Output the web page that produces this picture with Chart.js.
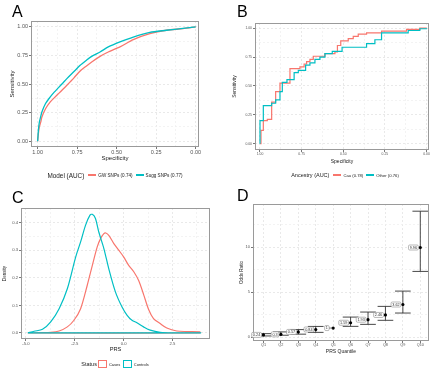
<!DOCTYPE html>
<html>
<head>
<meta charset="utf-8">
<script src="https://cdn.jsdelivr.net/npm/chart.js@4.4.1/dist/chart.umd.min.js"></script>
<style>
  body { margin: 0; width: 440px; height: 371px; position: relative; overflow: hidden; background: #fff;
         font-family: 'Liberation Sans', Arial, sans-serif; }
  canvas { position: absolute; }
  .tag { position: absolute; font-size: 16px; line-height: 16px; color: #000; will-change: transform; }
  .legend { position: absolute; display: flex; align-items: center; justify-content: center; color: #1a1a1a; white-space: nowrap; will-change: transform; }
  .legend span { color: #1a1a1a; }
  .legend .k { display: inline-block; box-sizing: border-box; }
</style>
</head>
<body>
<div class="tag" style="left:12px;top:4px">A</div>
<div class="tag" style="left:237px;top:4px">B</div>
<div class="tag" style="left:12px;top:190px">C</div>
<div class="tag" style="left:237px;top:188px">D</div>

<canvas id="rocA" width="205" height="150" style="left:0;top:15px"></canvas>
<canvas id="rocB" width="215" height="150" style="left:220px;top:15px"></canvas>
<canvas id="dens" width="215" height="155" style="left:0;top:200px"></canvas>
<canvas id="odds" width="215" height="155" style="left:220px;top:200px"></canvas>

<div class="legend" id="legA" style="left:0;width:230px;top:170px;height:10px"></div>
<div class="legend" id="legB" style="left:230px;width:230px;top:170px;height:10px"></div>
<div class="legend" id="legC" style="left:0;width:230px;top:359px;height:10px"></div>

<script>
// * A: ROC, whole cohort
const specA = [1, 0.995, 0.99, 0.98, 0.973, 0.95, 0.92, 0.895, 0.868, 0.84, 0.815, 0.77, 0.731, 0.695, 0.658, 0.605, 0.553, 0.479, 0.395, 0.29, 0.185, 0.08, 0];
const sensGW = [0, 0.07, 0.12, 0.17, 0.213, 0.285, 0.344, 0.38, 0.417, 0.455, 0.49, 0.555, 0.615, 0.655, 0.694, 0.743, 0.781, 0.825, 0.889, 0.941, 0.971, 0.985, 1];
const sensSugg = [0, 0.10, 0.16, 0.22, 0.257, 0.33, 0.388, 0.43, 0.469, 0.51, 0.548, 0.61, 0.665, 0.705, 0.743, 0.781, 0.825, 0.869, 0.912, 0.953, 0.971, 0.988, 1];
const modelNames = ["GW SNPs (0.74)", "Sugg SNPs (0.77)"];

// * B: ROC by ancestry (step curves)
const specCau = [1, 0.994, 0.98, 0.956, 0.93, 0.906, 0.88, 0.82, 0.76, 0.735, 0.72, 0.70, 0.68, 0.61, 0.55, 0.535, 0.515, 0.47, 0.44, 0.41, 0.36, 0.27, 0.12, 0.04, 0];
const sensCau = [0, 0.115, 0.20, 0.21, 0.36, 0.45, 0.525, 0.65, 0.665, 0.69, 0.71, 0.73, 0.757, 0.78, 0.795, 0.85, 0.89, 0.91, 0.93, 0.948, 0.96, 0.975, 0.99, 1, 1];
const specOther = [1, 1, 0.98, 0.93, 0.906, 0.88, 0.866, 0.838, 0.795, 0.77, 0.726, 0.70, 0.67, 0.64, 0.61, 0.566, 0.507, 0.36, 0.31, 0.27, 0.11, 0.04, 0];
const sensOther = [0, 0.20, 0.33, 0.35, 0.38, 0.45, 0.53, 0.555, 0.615, 0.635, 0.68, 0.70, 0.73, 0.75, 0.78, 0.80, 0.835, 0.867, 0.90, 0.96, 0.98, 0.995, 1];
const ancestryNames = ["Cau (0.78)", "Other (0.76)"];

// * C: PRS density (last two points close the outline along 0)
const prsCases = [-4.9, -4.2, -3.73, -3.3, -2.88, -2.54, -2.2, -1.86, -1.6, -1.35, -1.18, -1.01, -0.91, -0.76, -0.5, -0.25, 0.0, 0.26, 0.52, 0.77, 1.02, 1.28, 1.53, 1.87, 2.21, 2.72, 3.23, 3.9, 3.9, -4.9];
const densCases = [0, 0.001, 0.002, 0.007, 0.022, 0.046, 0.088, 0.173, 0.245, 0.312, 0.342, 0.36, 0.3625, 0.354, 0.324, 0.30, 0.276, 0.245, 0.222, 0.19, 0.14, 0.085, 0.052, 0.034, 0.018, 0.007, 0.005, 0.004, 0, 0];
const prsControls = [-4.9, -4.58, -4.15, -3.73, -3.3, -2.88, -2.45, -2.2, -1.95, -1.72, -1.6, -1.44, -1.27, -1.01, -0.76, -0.42, -0.08, 0.18, 0.43, 0.68, 1.02, 1.36, 1.87, 2.55, 3.9, -4.9];
const densControls = [0, 0.006, 0.013, 0.04, 0.088, 0.16, 0.276, 0.33, 0.39, 0.427, 0.43, 0.415, 0.366, 0.306, 0.233, 0.149, 0.094, 0.064, 0.046, 0.037, 0.022, 0.01, 0.002, 0, 0, 0];
const statusNames = ["Cases", "Controls"];

// * D: odds ratio per PRS quantile
const quantiles = ["Q1", "Q2", "Q3", "Q4", "Q5", "Q6", "Q7", "Q8", "Q9", "Q10"];
const oddsRatio = [0.24, 0.3, 0.57, 0.84, 1, 1.59, 1.93, 2.46, 3.62, 9.96];
const ciLow = [0.12, 0.2, 0.32, 0.52, null, 1.19, 1.41, 1.86, 2.67, 7.3];
const ciHigh = [0.38, 0.57, 0.83, 1.18, null, 2.22, 2.78, 3.41, 5.11, 14.0];

// ticks
const rocTicks = [0, 0.25, 0.5, 0.75, 1];
const prsTicks = [-5, -2.5, 0, 2.5];
const densTicks = [0, 0.1, 0.2, 0.3, 0.4];
const orTicks = [0, 5, 10];

const RED = "#F8766D";
const TEAL = "#00BFC4";

Chart.defaults.font.family = "'Liberation Sans', Arial, sans-serif";
Chart.defaults.animation = false;

const near = (a, b) => Math.abs(a - b) < 1e-6;
const mids = (m, lo, hi) => {
  const step = m[1] - m[0];
  const out = [];
  for (let v = m[0] - step / 2; v <= hi; v += step) if (v >= lo) out.push(v);
  return out;
};

function makeAxis(o) {
  const minors = o.minors || [];
  const all = o.majors.concat(minors).sort((a, b) => a - b);
  const isMajor = (v) => o.majors.some((m) => near(m, v));
  return {
    type: "linear",
    min: o.min,
    max: o.max,
    reverse: !!o.reverse,
    afterBuildTicks: (s) => { s.ticks = all.map((v) => ({ value: v })); },
    afterFit: (s) => { if (s.isHorizontal()) s.height = o.size; else s.width = o.size; },
    grid: {
      color: (c) => (c.tick && isMajor(c.tick.value) ? "#e4e4e4" : "#f0f0f0"),
      lineWidth: 0.8,
      tickLength: 2,
      tickWidth: 0.8,
      tickColor: (c) => (c.tick && isMajor(c.tick.value) ? "#555" : "rgba(0,0,0,0)"),
      tickBorderDash: [],
    },
    border: { display: false, dash: [2, 2] },
    ticks: {
      autoSkip: false,
      maxRotation: 0,
      padding: o.tickPad == null ? 1 : o.tickPad,
      color: "#555",
      font: { size: o.tickSize },
      callback: (v) => (isMajor(v) ? o.fmt(v) : ""),
    },
    title: { display: true, text: o.title, color: "#222", font: { size: o.titleSize }, padding: o.titlePad },
  };
}

// panel border like theme_bw
Chart.register({
  id: "frame",
  afterDatasetsDraw(chart) {
    const a = chart.chartArea, ctx = chart.ctx;
    ctx.save();
    ctx.strokeStyle = "#9a9a9a";
    ctx.lineWidth = 1;
    ctx.strokeRect(a.left + 0.5, a.top + 0.5, a.right - a.left - 1, a.bottom - a.top - 1);
    ctx.restore();
  },
});

const pts = (xs, ys) => xs.map((x, i) => ({ x: x, y: ys[i] }));
const baseOpts = (padTop, padRight, scales) => ({
  responsive: false,
  layout: { padding: { top: padTop, right: padRight, left: 0, bottom: 0 } },
  plugins: { legend: { display: false }, tooltip: { enabled: false } },
  scales: scales,
});
const fmt2 = (v) => v.toFixed(2);
const fmt1 = (v) => v.toFixed(1);

// ? A
new Chart(document.getElementById("rocA"), {
  type: "scatter",
  data: {
    datasets: [
      { label: modelNames[0], data: pts(specA, sensGW), showLine: true, pointRadius: 0, borderColor: RED, borderWidth: 1.3, tension: 0.25, order: 1 },
      { label: modelNames[1], data: pts(specA, sensSugg), showLine: true, pointRadius: 0, borderColor: TEAL, borderWidth: 1.3, tension: 0.25, order: 0 },
    ],
  },
  options: baseOpts(6, 6, {
    x: makeAxis({ min: -0.021, max: 1.042, reverse: true, majors: rocTicks, minors: mids(rocTicks, -0.021, 1.042), size: 18, tickSize: 5.5, tickPad: 0, fmt: fmt2, title: "Specificity", titleSize: 6, titlePad: { top: 0, bottom: 2.6 } }),
    y: makeAxis({ min: -0.05, max: 1.052, majors: rocTicks, minors: mids(rocTicks, -0.05, 1.052), size: 31, tickSize: 5.5, fmt: fmt2, title: "Sensitivity", titleSize: 6, titlePad: { top: 8.4, bottom: 0 } }),
  }),
});

// ? B
new Chart(document.getElementById("rocB"), {
  type: "scatter",
  data: {
    datasets: [
      { label: ancestryNames[0], data: pts(specCau, sensCau), showLine: true, stepped: true, pointRadius: 0, borderColor: RED, borderWidth: 1.2, order: 1 },
      { label: ancestryNames[1], data: pts(specOther, sensOther), showLine: true, stepped: true, pointRadius: 0, borderColor: TEAL, borderWidth: 1.2, order: 0 },
    ],
  },
  options: baseOpts(8, 6, {
    x: makeAxis({ min: -0.015, max: 1.03, reverse: true, majors: rocTicks, minors: mids(rocTicks, -0.015, 1.03), size: 15, tickSize: 3.4, tickPad: 0, fmt: fmt2, title: "Specificity", titleSize: 5, titlePad: { top: 0, bottom: 0.8 } }),
    y: makeAxis({ min: -0.055, max: 1.045, majors: rocTicks, minors: mids(rocTicks, -0.055, 1.045), size: 35, tickSize: 3.4, fmt: fmt2, title: "Sensitivity", titleSize: 5, titlePad: { top: 12, bottom: 0 } }),
  }),
});

// ? C
new Chart(document.getElementById("dens"), {
  type: "scatter",
  data: {
    datasets: [
      { label: statusNames[0], data: pts(prsCases, densCases), showLine: true, pointRadius: 0, borderColor: RED, borderWidth: 1.2, tension: 0.3, order: 1 },
      { label: statusNames[1], data: pts(prsControls, densControls), showLine: true, pointRadius: 0, borderColor: TEAL, borderWidth: 1.2, tension: 0.3, order: 0 },
    ],
  },
  options: baseOpts(8, 5, {
    x: makeAxis({ min: -5.25, max: 4.42, majors: prsTicks, minors: mids(prsTicks, -5.25, 4.42), size: 16, tickSize: 4.2, tickPad: 0, fmt: fmt1, title: "PRS", titleSize: 5.7, titlePad: { top: 0, bottom: 1.8 } }),
    y: makeAxis({ min: -0.022, max: 0.453, majors: densTicks, minors: mids(densTicks, -0.022, 0.453), size: 21, tickSize: 4.2, fmt: fmt1, title: "Density", titleSize: 4.6, titlePad: { top: 2.3, bottom: 0 } }),
  }),
});

// ? D
const errorBars = {
  id: "errorBars",
  beforeDatasetsDraw(chart) {
    const xs = chart.scales.x, ys = chart.scales.y, ctx = chart.ctx;
    ctx.save();
    ctx.strokeStyle = "#333";
    ctx.lineWidth = 0.9;
    oddsRatio.forEach((v, i) => {
      if (ciLow[i] == null) return;
      const x = xs.getPixelForValue(i + 1);
      const half = xs.getPixelForValue(i + 1.45) - x;
      const lo = ys.getPixelForValue(ciLow[i]);
      const hi = ys.getPixelForValue(ciHigh[i]);
      ctx.beginPath();
      ctx.moveTo(x, lo); ctx.lineTo(x, hi);
      ctx.moveTo(x - half, lo); ctx.lineTo(x + half, lo);
      ctx.moveTo(x - half, hi); ctx.lineTo(x + half, hi);
      ctx.stroke();
    });
    ctx.restore();
  },
};
const orLabels = {
  id: "orLabels",
  afterDatasetsDraw(chart) {
    const meta = chart.getDatasetMeta(0), ctx = chart.ctx;
    ctx.save();
    ctx.font = "3.8px 'Liberation Sans', Arial, sans-serif";
    ctx.textBaseline = "middle";
    ctx.textAlign = "center";
    meta.data.forEach((p, i) => {
      const txt = String(oddsRatio[i]);
      const w = ctx.measureText(txt).width + 2.4;
      const h = 5;
      const right = p.x - (i === 4 ? 4 : 2);
      ctx.beginPath();
      ctx.roundRect(right - w, p.y - h / 2, w, h, 1.2);
      ctx.fillStyle = "#fff";
      ctx.fill();
      ctx.strokeStyle = "#8a8a8a";
      ctx.lineWidth = 0.6;
      ctx.stroke();
      if (i === 4) {
        ctx.beginPath();
        ctx.moveTo(right, p.y); ctx.lineTo(p.x, p.y);
        ctx.strokeStyle = "#333";
        ctx.stroke();
      }
      ctx.fillStyle = "#333";
      ctx.fillText(txt, right - w / 2, p.y + 0.2);
    });
    ctx.restore();
  },
};

new Chart(document.getElementById("odds"), {
  type: "scatter",
  data: {
    datasets: [
      { label: "Odds Ratio", data: oddsRatio.map((v, i) => ({ x: i + 1, y: v })), pointRadius: 1.6, pointBackgroundColor: "#000", pointBorderWidth: 0 },
    ],
  },
  options: baseOpts(4, 6, {
    x: makeAxis({ min: 0.4, max: 10.5, majors: quantiles.map((q, i) => i + 1), minors: [], size: 14, tickSize: 3.8, tickPad: 0, fmt: (v) => quantiles[Math.round(v) - 1], title: "PRS Quantile", titleSize: 5, titlePad: { top: 0, bottom: 0 } }),
    y: makeAxis({ min: -0.44, max: 14.8, majors: orTicks, minors: mids(orTicks, -0.44, 14.8), size: 33, tickSize: 4, fmt: (v) => String(v), title: "Odds Ratio", titleSize: 4.6, titlePad: { top: 19.3, bottom: 0 } }),
  }),
  plugins: [errorBars, orLabels],
});

// * legends
function buildLegend(id, title, titleSize, names, colors, kind, itemSize) {
  const el = document.getElementById(id);
  let html = `<span style="font-size:${titleSize}px;margin-right:${kind === "box" ? 1.5 : 4}px">${title}</span>`;
  names.forEach((n, i) => {
    const key = kind === "box"
      ? `<span class="k" style="width:9px;height:8px;border:1px solid ${colors[i]};margin-right:1.5px"></span>`
      : `<span class="k" style="width:8px;height:1.3px;background:${colors[i]};margin-right:2px"></span>`;
    html += key + `<span style="font-size:${itemSize}px;margin-right:${i < names.length - 1 ? 3 : 0}px">${n}</span>`;
  });
  el.innerHTML = html;
}
buildLegend("legA", "Model (AUC)", 6.4, modelNames, [RED, TEAL], "line", 4.6);
buildLegend("legB", "Ancestry (AUC)", 5.5, ancestryNames, [RED, TEAL], "line", 4.2);
buildLegend("legC", "Status", 5.5, statusNames, [RED, TEAL], "box", 4);
</script>
</body>
</html>
